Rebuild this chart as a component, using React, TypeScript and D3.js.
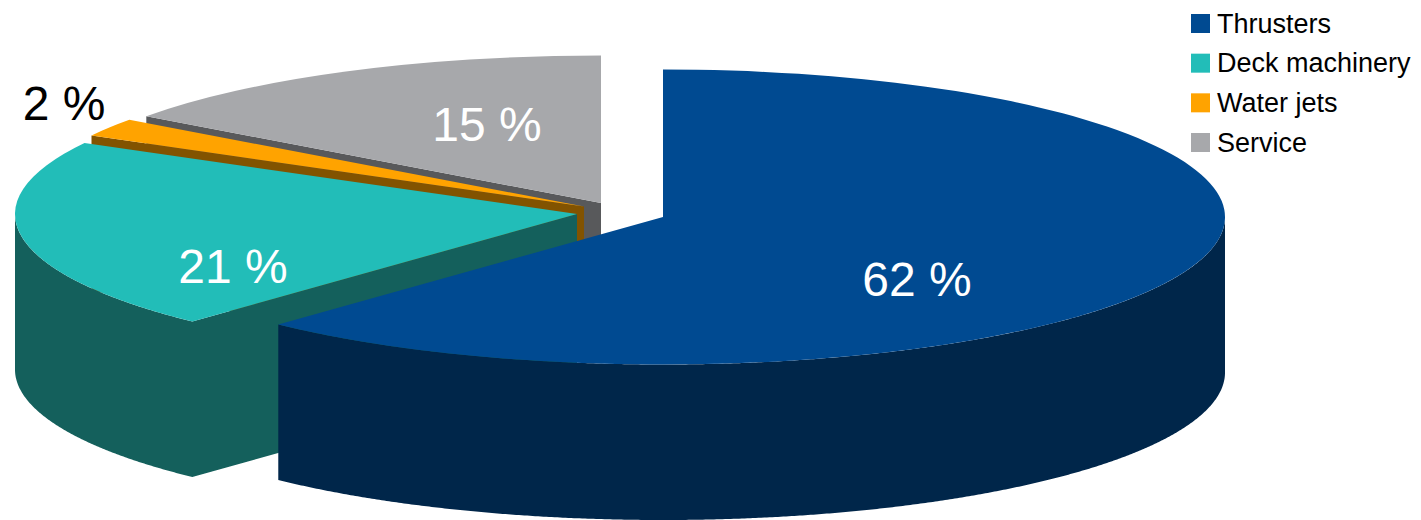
import React from 'react';
import * as d3 from 'd3';

const categories = ['Thrusters', 'Deck machinery', 'Water jets', 'Service'];
const shares = [62, 21, 2, 15];
const percentLabels = ['62 %', '21 %', '2 %', '15 %'];

const width = 1421;
const height = 520;

// ellipse of the tilted pie
const radius = 562;
const radiusY = 147.5;
const depth = 155.5;

const topColors = ['#004a91', '#22bdb8', '#ffa300', '#a7a8ab'];
const sideColors = ['#00264a', '#14605c', '#825300', '#58595b'];
const labelColors = ['#ffffff', '#ffffff', '#000000', '#ffffff'];

// exploded slice centres, same order as categories
const centres = [
  { x: 663, y: 217 },
  { x: 577, y: 214 },
  { x: 584, y: 206.5 },
  { x: 601, y: 203 },
];
const labelPos = [
  { x: 917, y: 296 },
  { x: 233, y: 283 },
  { x: 64, y: 120 },
  { x: 487, y: 141 },
];

const pie = d3.pie<number>().sort(null).value(d => d);
const slices = pie(shares);
const arc = d3.arc<d3.PieArcDatum<number>>().innerRadius(0).outerRadius(radius);

const rimX = (cx: number, a: number) => cx + radius * Math.sin(a);
const rimY = (cy: number, a: number) => cy - radiusY * Math.cos(a);

// outer wall, only the part of the rim that faces the viewer
function outerWall(i: number) {
  const c = centres[i];
  const from = Math.max(slices[i].startAngle, Math.PI / 2);
  const to = Math.min(slices[i].endAngle, (3 * Math.PI) / 2);
  if (from >= to) return '';
  const angles = d3.range(from, to, 0.005).concat(to);
  return d3.area<number>()
    .x(a => rimX(c.x, a))
    .y0(a => rimY(c.y, a))
    .y1(a => rimY(c.y, a) + depth)(angles) as string;
}

// flat cut face running from the centre to the rim at the slice's start
function cutWall(i: number) {
  if (i === 0) return ''; // the big slice's cut face looks away from us
  const c = centres[i];
  const a = slices[i].startAngle;
  const rx = rimX(c.x, a);
  const ry = rimY(c.y, a);
  return d3.line()([
    [c.x, c.y],
    [rx, ry],
    [rx, ry + depth],
    [c.x, c.y + depth],
  ]) + 'Z';
}

const drawOrder = [3, 2, 1, 0];

const App: React.FC = () => {
  const legendY = d3.scalePoint<string>().domain(categories).range([23.5, 142.5]);

  return (
    <svg
      width={width}
      height={height}
      viewBox={`0 0 ${width} ${height}`}
      style={{ position: 'absolute', left: 0, top: 0, background: '#fff', fontFamily: '"Liberation Sans", Arial, sans-serif' }}
    >
      {drawOrder.map(i => (
        <g key={categories[i]}>
          {/* one path for both walls so no seam shows where they meet */}
          <path d={cutWall(i) + outerWall(i)} fill={sideColors[i]} />
          <g transform={`translate(${centres[i].x},${centres[i].y}) scale(1,${radiusY / radius})`}>
            <path d={arc(slices[i]) as string} fill={topColors[i]} />
          </g>
        </g>
      ))}

      {percentLabels.map((t, i) => (
        <text key={t} x={labelPos[i].x} y={labelPos[i].y} textAnchor="middle" fontSize={48} fill={labelColors[i]}>
          {t}
        </text>
      ))}

      {categories.map((c, i) => (
        <g key={c} transform={`translate(1191,${legendY(c)})`}>
          <rect x={0} y={-9.5} width={19} height={19} fill={topColors[i]} />
          <text x={26} y={9} fontSize={27} fill="#000">{c}</text>
        </g>
      ))}
    </svg>
  );
};

export default App;
